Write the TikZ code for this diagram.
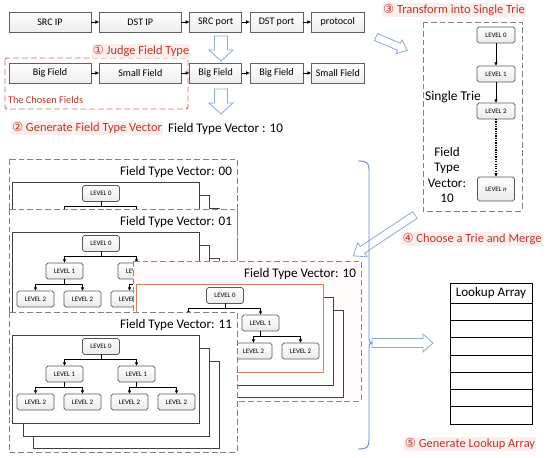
\documentclass[tikz,border=0pt]{standalone}
\usepackage{fontspec}
\setmainfont{Carlito}
\newfontfamily\circfont{DejaVu Sans}
\usetikzlibrary{arrows.meta,positioning}

\definecolor{capred}{RGB}{190,52,42}
\definecolor{capbg}{RGB}{253,238,238}
\definecolor{chosenline}{RGB}{200,112,100}
\definecolor{frontline}{RGB}{222,122,92}
\definecolor{arrowblue}{RGB}{140,170,215}
\definecolor{braceblue}{RGB}{105,135,208}
\definecolor{dashgray}{RGB}{130,130,130}

% one group: name, top-left corner, vector, box style, front frame style
\newcommand\ftvgroup[5]{%
  \begin{scope}[shift={#2}]
    \draw[groupbox, #4] (0,0) rectangle (228,140);
    \node[ftvtitle, anchor=east] (#1title) at (223,13) {Field Type Vector: #3};
    \draw[trieframe] (24,49) rectangle (210,136);
    \draw[trieframe] (14,36) rectangle (200,124);
    \draw[trieframe, #5] (3,23) rectangle (190,111);
    \node[level] (#1l0) at (92,34.5) {LEVEL 0};
    \node[level] (#1l1a) at (55.5,62) {LEVEL 1};
    \node[level] (#1l1b) at (127.5,62) {LEVEL 1};
    \node[level] (#1l2a) at (26.5,90) {LEVEL 2};
    \node[level] (#1l2b) at (73.5,90) {LEVEL 2};
    \node[level] (#1l2c) at (120.5,90) {LEVEL 2};
    \node[level] (#1l2d) at (167.5,90) {LEVEL 2};
    \foreach \c in {l1a,l1b} \draw[tree] (#1l0.south) -- ++(0,4.5) -| (#1\c.north);
    \foreach \c in {l2a,l2b} \draw[tree] (#1l1a.south) -- ++(0,5) -| (#1\c.north);
    \foreach \c in {l2c,l2d} \draw[tree] (#1l1b.south) -- ++(0,5) -| (#1\c.north);
  \end{scope}}

% hollow block arrow: start, angle, length, shaft half width, head half width, head length
\newcommand\blockarrow[6]{%
  \begin{scope}[shift={#1}, rotate=#2]
    \draw[hollow] (0,-#4) -- ({#3-#6},-#4) -- ({#3-#6},-#5) -- (#3,0) -- ({#3-#6},#5) -- ({#3-#6},#4) -- (0,#4) -- cycle;
  \end{scope}}

\begin{document}
\begin{tikzpicture}[
    x=0.03cm, y=-0.03cm,
    node distance=0.25cm,
    every node/.style={inner sep=0pt, outer sep=0pt},
    fieldbox/.style={draw=gray!75!black, line width=0.6pt, top color=white, bottom color=gray!14, minimum height=0.6cm, font=\fontsize{8.6}{10}\selectfont},
    level/.style={draw=gray!70!black, line width=0.6pt, rounded corners=1.6pt, top color=white, bottom color=gray!16, minimum width=1.11cm, minimum height=0.48cm, font=\fontsize{5.8}{7}\selectfont},
    caption/.style={font=\fontsize{10.6}{12}\selectfont, text=capred, fill=capbg, inner sep=1pt},
    ftvtitle/.style={font=\fontsize{11.2}{13}\selectfont},
    groupbox/.style={draw=dashgray, line width=0.8pt, dash pattern=on 5pt off 2.5pt, fill=white},
    chosenbox/.style={draw=chosenline, fill=red!2},
    trieframe/.style={draw=black!75, line width=0.6pt, fill=white},
    frontframe/.style={draw=frontline, line width=0.8pt},
    flow/.style={-{Latex[length=3.4pt,width=3.2pt]}, line width=0.6pt},
    tree/.style={-{Latex[length=3pt,width=3pt]}, line width=0.6pt},
    hollow/.style={draw=arrowblue, line width=0.7pt, fill=white},
    bracelin/.style={draw=braceblue, line width=0.8pt}
]
\useasboundingbox (0,0) rectangle (550,458);

% field rows
\node[fieldbox, minimum width=2.46cm] (srcip) at (50,22) {SRC IP};
\node[fieldbox, minimum width=2.46cm, right=of srcip] (dstip) {DST IP};
\node[fieldbox, minimum width=1.56cm, right=of dstip] (srcport) {SRC port};
\node[fieldbox, minimum width=1.59cm, right=of srcport] (dstport) {DST port};
\node[fieldbox, minimum width=1.59cm, right=of dstport] (protocol) {protocol};
\draw[flow] (srcip) -- (dstip);
\draw[flow] (dstip) -- (srcport);
\draw[flow] (srcport) -- (dstport);
\draw[flow] (dstport) -- (protocol);

\node[fieldbox, minimum width=2.46cm, below=0.93cm of srcip] (bigA) {Big Field};
\node[fieldbox, minimum width=2.46cm, right=of bigA] (smallA) {Small Field};
\node[fieldbox, minimum width=1.56cm, right=of smallA] (bigB) {Big Field};
\node[fieldbox, minimum width=1.59cm, right=of bigB] (bigC) {Big Field};
\node[fieldbox, minimum width=1.59cm, right=of bigC] (smallB) {Small Field};
\draw[flow] (bigA) -- (smallA);
\draw[flow] (smallA) -- (bigB);
\draw[flow] (bigB) -- (bigC);
\draw[flow] (bigC) -- (smallB);

\draw[draw=chosenline, line width=0.8pt, dash pattern=on 5pt off 2.5pt, rounded corners=2pt] (5,58) rectangle (188,109);
\node[anchor=west, text=capred, font=\fontsize{8.8}{10}\selectfont] (chosen) at (8,100) {The Chosen Fields};

% captions
\node[caption] (judge) at (141,51) {{\circfont ①} Judge Field Type};
\node[caption] (generate) at (87,128) {{\circfont ②} Generate Field Type Vector};
\node[ftvtitle, anchor=west] (vector) at (168,129) {Field Type Vector : 10};
\node[caption] (transform) at (454,10) {{\circfont ③} Transform into Single Trie};
\node[caption] (merge) at (472,239) {{\circfont ④} Choose a Trie and Merge};
\node[caption] (lookupcap) at (470,444) {{\circfont ⑤} Generate Lookup Array};

% hollow arrows
\coordinate (ar1s) at (221,36);
\coordinate (ar2s) at (221,89);
\coordinate (ar3s) at (376,37);
\coordinate (ar4s) at (415,215);
\coordinate (ar5s) at (372,343);
\blockarrow{(ar1s)}{-90}{25}{6.5}{12}{11}
\blockarrow{(ar2s)}{-90}{25}{6.5}{12}{11}
\blockarrow{(ar3s)}{-23}{34}{3.8}{7.5}{9}
\blockarrow{(ar4s)}{213.5}{74}{4}{8.5}{11}
\blockarrow{(ar5s)}{0}{61}{4.5}{9}{10}

% single trie
\draw[groupbox] (423,22) rectangle (522,211);
\node[level, minimum width=1.14cm] (st0) at (496,35) {LEVEL 0};
\node[level, minimum width=1.14cm, below=0.69cm of st0] (st1) {LEVEL 1};
\node[level, minimum width=1.14cm, below=0.63cm of st1] (st2) {LEVEL 2};
\node[level, minimum width=1.11cm, minimum height=0.72cm, below=1.74cm of st2] (stn) {LEVEL \textit{n}};
\draw[tree] (st0) -- (st1);
\draw[tree] (st1) -- (st2);
\draw[tree, line width=1pt, dash pattern=on 1pt off 1pt] (st2) -- (stn);
\node[font=\fontsize{11.5}{13}\selectfont] (single) at (453,97) {Single Trie};
\node[align=center, font=\fontsize{11.2}{13}\selectfont] (stvector) at (447,175) {Field\\Type\\Vector:\\10};

% trie groups
\ftvgroup{g00}{(9,159)}{00}{}{}
\ftvgroup{g01}{(9,209)}{01}{}{}
\ftvgroup{g10}{(133,261)}{10}{chosenbox}{frontframe}
\ftvgroup{g11}{(9,312)}{11}{}{}

% brace
\draw[bracelin] (358,161) .. controls (369,161) and (369,164) .. (369,172) -- (369,338)
  .. controls (369,342) and (370,343) .. (372,343) .. controls (370,343) and (369,344) .. (369,348)
  -- (369,439) .. controls (369,448) and (367,449) .. (358,449);

% lookup array
\node[draw, line width=0.6pt, minimum width=2.46cm, minimum height=4.23cm] (lookup) at (491,353.5) {};
\node[ftvtitle] (lookuptitle) at (491,293) {Lookup Array};
\foreach \i in {0,...,6}
  \draw[line width=0.6pt] (450,{303+17.3*\i}) -- (532,{303+17.3*\i});
\end{tikzpicture}
\end{document}
